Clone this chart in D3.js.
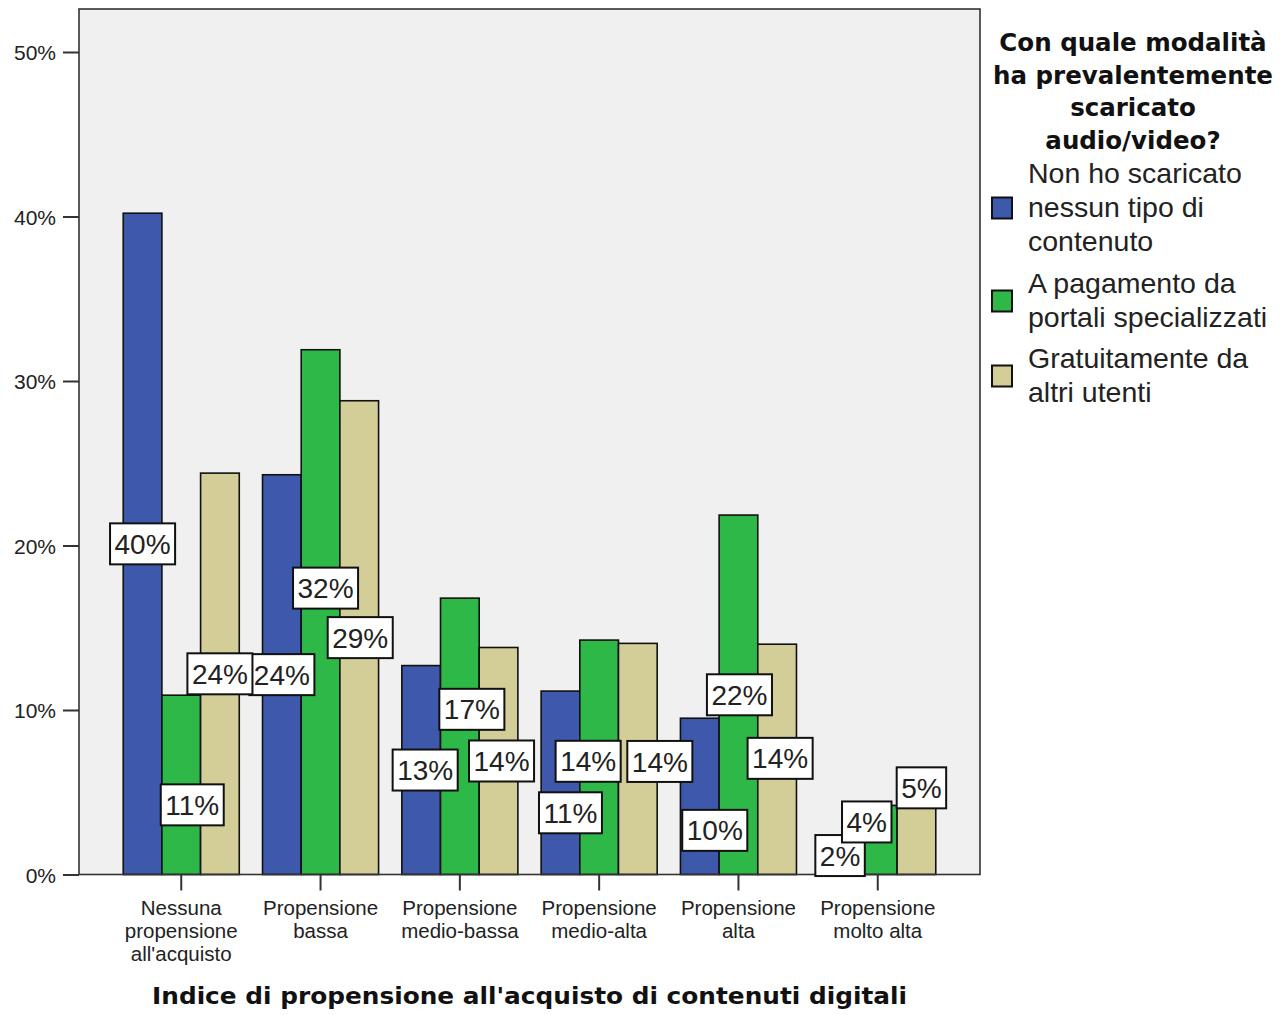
<!DOCTYPE html>
<html>
<head>
<meta charset="utf-8">
<script src="https://cdn.jsdelivr.net/npm/d3@7"></script>
<style>
  html, body { margin: 0; padding: 0; background: #ffffff; }
  svg { display: block; }
</style>
</head>
<body>
<svg id="chart" width="1281" height="1015"></svg>
<script>
// ---------- DATA ----------
const categories = [
  "Nessuna\npropensione\nall'acquisto",
  "Propensione\nbassa",
  "Propensione\nmedio-bassa",
  "Propensione\nmedio-alta",
  "Propensione\nalta",
  "Propensione\nmolto alta"
];
const seriesNames = [
  "Non ho scaricato\nnessun tipo di\ncontenuto",
  "A pagamento da\nportali specializzati",
  "Gratuitamente da\naltri utenti"
];
const nonScaricato = [0.402, 0.243, 0.127, 0.1115, 0.095, 0.020];
const aPagamento   = [0.109, 0.319, 0.168, 0.1425, 0.2185, 0.042];
const gratuitamente = [0.244, 0.288, 0.138, 0.1405, 0.140, 0.047];
const yTicks = [0, 0.1, 0.2, 0.3, 0.4, 0.5];
const legendTitle = ["Con quale modalità", "ha prevalentemente", "scaricato", "audio/video?"];
const xTitle = "Indice di propensione all'acquisto di contenuti digitali";

// ---------- LAYOUT / STYLE ----------
const colors = ["#3e58ac", "#2eb848", "#d3ce97"];
const plot = { left: 79, right: 980, top: 9, bottom: 874.5 };
// label nudges (px) from the bar's mid-height / centre, to avoid overlaps as in the original
const labelDx = [
  [0, 0, 4, 10, 15, 1],
  [11, 5, 12, -11, 1, -11],
  [0, 1, 3, 22, 3, 5]
];
const labelDy = [
  [0, 0, 0, 30, 34, -2.5],
  [20, -24, -27, 4, 0, -18],
  [0, 0, 0, 2.5, -1, -48]
];

const series = [nonScaricato, aPagamento, gratuitamente];
const svg = d3.select("#chart");

const x0 = d3.scaleBand()
  .domain(d3.range(categories.length))
  .range([plot.left, plot.right])
  .paddingInner(0.167)
  .paddingOuter(0.3175);
const x1 = d3.scaleBand()
  .domain(d3.range(series.length))
  .range([0, x0.bandwidth()]);
const y = d3.scaleLinear().domain([0, 0.5]).range([plot.bottom, 52]);

// plot background
svg.append("rect")
  .attr("x", plot.left).attr("y", plot.top)
  .attr("width", plot.right - plot.left).attr("height", plot.bottom - plot.top)
  .attr("fill", "#f0f0f0");

// bars
const groups = svg.append("g").selectAll("g")
  .data(categories)
  .join("g")
  .attr("transform", (d, i) => `translate(${x0(i)},0)`);

groups.selectAll("rect")
  .data((d, i) => series.map((s, k) => ({ k, i, v: s[i] })))
  .join("rect")
  .attr("x", d => x1(d.k))
  .attr("y", d => y(d.v))
  .attr("width", x1.bandwidth())
  .attr("height", d => y(0) - y(d.v))
  .attr("fill", d => colors[d.k])
  .attr("stroke", "#111")
  .attr("stroke-width", 1.6);

// frame
svg.append("rect")
  .attr("x", plot.left).attr("y", plot.top)
  .attr("width", plot.right - plot.left).attr("height", plot.bottom - plot.top)
  .attr("fill", "none")
  .attr("stroke", "#333")
  .attr("stroke-width", 1.6);

// y axis
const yAxis = svg.append("g")
  .attr("transform", `translate(${plot.left},0)`)
  .call(d3.axisLeft(y).tickValues(yTicks).tickFormat(d3.format(".0%")).tickSize(16).tickPadding(7));
yAxis.select(".domain").remove();
yAxis.selectAll(".tick line").attr("stroke", "#333").attr("stroke-width", 2);
yAxis.selectAll(".tick text")
  .attr("font-family", "'Liberation Sans', Arial, sans-serif")
  .attr("font-size", 21)
  .attr("fill", "#222")
  .attr("dy", "0.36em");

// x axis
const xAxis = svg.append("g")
  .attr("transform", `translate(0,${plot.bottom})`)
  .call(d3.axisBottom(x0).tickSize(16).tickFormat(""));
xAxis.select(".domain").remove();
xAxis.selectAll(".tick line").attr("stroke", "#333").attr("stroke-width", 2);
xAxis.selectAll(".tick text").remove();
xAxis.selectAll(".tick").each(function (d) {
  const t = d3.select(this).append("text")
    .attr("font-family", "'Liberation Sans', Arial, sans-serif")
    .attr("font-size", 20.5)
    .attr("fill", "#222")
    .attr("text-anchor", "middle");
  categories[d].split("\n").forEach((line, j) => {
    t.append("tspan").attr("x", 0).attr("y", 40.5 + j * 23).text(line);
  });
});

// x title
svg.append("text")
  .attr("x", (plot.left + plot.right) / 2)
  .attr("y", 1004)
  .attr("text-anchor", "middle")
  .attr("font-family", "'DejaVu Sans', Verdana, sans-serif")
  .attr("font-weight", "bold")
  .attr("font-size", 23.5)
  .attr("fill", "#111")
  .attr("textLength", 755)
  .attr("lengthAdjust", "spacingAndGlyphs")
  .text(xTitle);

// value labels
const labelLayer = svg.append("g");
series.forEach((s, k) => {
  s.forEach((v, i) => {
    const cx = x0(i) + x1(k) + x1.bandwidth() / 2 + labelDx[k][i];
    const cy = (y(v) + y(0)) / 2 + labelDy[k][i];
    const g = labelLayer.append("g").attr("transform", `translate(${cx},${cy})`);
    const rect = g.append("rect").attr("fill", "#fff").attr("stroke", "#111").attr("stroke-width", 2);
    const txt = g.append("text")
      .attr("text-anchor", "middle")
      .attr("dy", "0.36em")
      .attr("font-family", "'Liberation Sans', Arial, sans-serif")
      .attr("font-size", 28)
      .attr("fill", "#222")
      .text(d3.format(".0%")(v));
    const w = txt.node().getComputedTextLength() + 9;
    rect.attr("x", -w / 2).attr("y", -20.5).attr("width", w).attr("height", 41);
  });
});

// legend
const lg = svg.append("g");
legendTitle.forEach((line, j) => {
  lg.append("text")
    .attr("x", 1133).attr("y", 51 + j * 32.6)
    .attr("text-anchor", "middle")
    .attr("font-family", "'DejaVu Sans', Verdana, sans-serif")
    .attr("font-weight", "bold")
    .attr("font-size", 24.5)
    .attr("fill", "#111")
    .text(line);
});
const legendFirstBaseline = [183, 293, 368];
seriesNames.forEach((name, k) => {
  const lines = name.split("\n");
  const base = legendFirstBaseline[k];
  const t = lg.append("text")
    .attr("font-family", "'Liberation Sans', Arial, sans-serif")
    .attr("font-size", 28.5)
    .attr("fill", "#222");
  lines.forEach((line, j) => {
    t.append("tspan").attr("x", 1028).attr("y", base + j * 34).text(line);
  });
  const mid = base - 9 + (lines.length - 1) * 34 / 2;
  lg.append("rect")
    .attr("x", 992).attr("y", mid - 10.5)
    .attr("width", 20).attr("height", 21)
    .attr("fill", colors[k])
    .attr("stroke", "#111")
    .attr("stroke-width", 2);
});
</script>
</body>
</html>
